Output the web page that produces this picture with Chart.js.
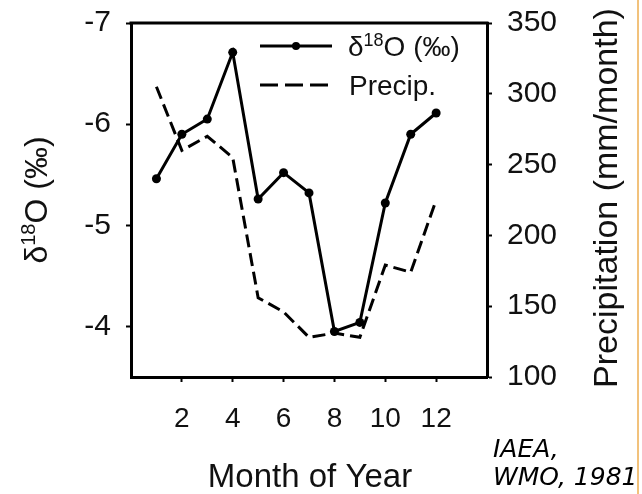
<!DOCTYPE html>
<html>
<head>
<meta charset="utf-8">
<title>d18O and precipitation by month</title>
<script src="https://cdn.jsdelivr.net/npm/chart.js@4.4.1/dist/chart.umd.min.js"></script>
<style>
    html, body { margin: 0; padding: 0; background: #fff; }
    #wrap { width: 642px; height: 494px; }
</style>
</head>
<body>
<div id="wrap"><canvas id="isoChart" width="642" height="494"></canvas></div>
<script>
// values
const months = [1, 2, 3, 4, 5, 6, 7, 8, 9, 10, 11, 12];
const delta18O = [-5.46, -5.90, -6.05, -6.71, -5.26, -5.52, -5.32, -3.95, -4.04, -5.22, -5.90, -6.11];
const precip = [305, 260, 270, 255, 156, 146, 128, 131, 128, 179, 174, 225];

const monthTicks = [2, 4, 6, 8, 10, 12];
const deltaTicks = [-7, -6, -5, -4];
const precipTicks = [100, 150, 200, 250, 300, 350];

const FONT = '"Liberation Sans", Arial, sans-serif';
const INK = '#111';

// δ18O (‰) with a raised 18
function drawDeltaLabel(ctx, x, y, size) {
    const small = Math.round(size * 0.64);
    ctx.font = `${size}px ${FONT}`;
    const w1 = ctx.measureText('δ').width;
    const w3 = ctx.measureText('O (‰)').width;
    ctx.font = `${small}px ${FONT}`;
    const w2 = ctx.measureText('18').width;
    ctx.font = `${size}px ${FONT}`;
    ctx.fillText('δ', x, y);
    ctx.font = `${small}px ${FONT}`;
    ctx.fillText('18', x + w1, y - size * 0.36);
    ctx.font = `${size}px ${FONT}`;
    ctx.fillText('O (‰)', x + w1 + w2, y);
    return w1 + w2 + w3;
}

function deltaLabelWidth(ctx, size) {
    const small = Math.round(size * 0.64);
    ctx.font = `${size}px ${FONT}`;
    let w = ctx.measureText('δ').width + ctx.measureText('O (‰)').width;
    ctx.font = `${small}px ${FONT}`;
    w += ctx.measureText('18').width;
    return w;
}

// pin the side axes so the plot box lands where it is in the figure
function fitSide(width) {
    return (scale) => {
        scale.width = width;
        scale.paddingTop = 0;
        scale.paddingBottom = 0;
    };
}

const decorPlugin = {
    id: 'decor',
    afterDraw(chart) {
        const ctx = chart.ctx;
        const area = chart.chartArea;
        ctx.save();

        // top edge of the frame
        ctx.strokeStyle = '#000';
        ctx.lineWidth = 3;
        ctx.beginPath();
        ctx.moveTo(area.left - 1.5, area.top);
        ctx.lineTo(area.right + 1.5, area.top);
        ctx.stroke();

        // legend
        ctx.lineWidth = 3;
        ctx.beginPath();
        ctx.moveTo(260, 46);
        ctx.lineTo(332, 46);
        ctx.stroke();
        ctx.beginPath();
        ctx.arc(296, 46, 4, 0, Math.PI * 2);
        ctx.fillStyle = '#000';
        ctx.fill();
        ctx.setLineDash([18, 7]);
        ctx.beginPath();
        ctx.moveTo(260, 85);
        ctx.lineTo(332, 85);
        ctx.stroke();
        ctx.setLineDash([]);

        ctx.fillStyle = INK;
        ctx.textBaseline = 'alphabetic';
        ctx.textAlign = 'left';
        drawDeltaLabel(ctx, 348, 56, 28);
        ctx.font = `28px ${FONT}`;
        ctx.fillText('Precip.', 349, 95);

        // left axis title
        ctx.save();
        ctx.translate(47, 200);
        ctx.rotate(-Math.PI / 2);
        const lw = deltaLabelWidth(ctx, 32);
        drawDeltaLabel(ctx, -lw / 2, 0, 32);
        ctx.restore();

        // right axis title
        ctx.save();
        ctx.translate(617, 198);
        ctx.rotate(-Math.PI / 2);
        ctx.textAlign = 'center';
        ctx.font = `34px ${FONT}`;
        ctx.fillText('Precipitation (mm/month)', 0, 0);
        ctx.restore();

        // x axis title
        ctx.textAlign = 'center';
        ctx.font = `33px ${FONT}`;
        ctx.fillText('Month of Year', 310, 487);

        // source note
        ctx.textAlign = 'left';
        ctx.fillStyle = '#000';
        ctx.font = `italic 25px "DejaVu Sans", sans-serif`;
        ctx.fillText('IAEA,', 493, 457);
        ctx.fillText('WMO, 1981', 493, 485);

        // thin frame line at the right edge of the picture
        ctx.strokeStyle = '#f2c27c';
        ctx.lineWidth = 2;
        ctx.beginPath();
        ctx.moveTo(638, 0);
        ctx.lineTo(638, 494);
        ctx.stroke();

        ctx.restore();
    },
};

const ctx = document.getElementById('isoChart').getContext('2d');

new Chart(ctx, {
    type: 'line',
    data: {
        labels: months,
        datasets: [
            {
                label: 'δ18O (‰)',
                data: months.map((m, i) => ({ x: m, y: delta18O[i] })),
                yAxisID: 'y',
                borderColor: '#000',
                backgroundColor: '#000',
                borderWidth: 3,
                pointRadius: 4.5,
                pointBackgroundColor: '#000',
                pointBorderWidth: 0,
                tension: 0,
            },
            {
                label: 'Precip.',
                data: months.map((m, i) => ({ x: m, y: precip[i] })),
                yAxisID: 'y1',
                borderColor: '#000',
                borderWidth: 3,
                borderDash: [13, 6],
                pointRadius: 0,
                tension: 0,
            },
        ],
    },
    options: {
        responsive: false,
        animation: false,
        devicePixelRatio: 1,
        layout: { padding: { top: 23, left: 0, right: 0, bottom: 0 } },
        plugins: {
            legend: { display: false },
            tooltip: { enabled: false },
        },
        scales: {
            x: {
                type: 'linear',
                min: 0,
                max: 14,
                afterBuildTicks: (scale) => {
                    scale.ticks = monthTicks.map((v) => ({ value: v }));
                },
                afterFit: (scale) => {
                    scale.height = 117;
                    scale.paddingLeft = 0;
                    scale.paddingRight = 0;
                },
                ticks: {
                    color: INK,
                    font: { family: FONT, size: 28 },
                    padding: 20,
                    maxRotation: 0,
                    callback: (v) => v,
                },
                grid: { drawOnChartArea: false, tickLength: 5, tickWidth: 2, tickColor: '#000' },
                border: { display: true, color: '#000', width: 3 },
            },
            y: {
                position: 'left',
                reverse: true,
                min: -7,
                max: -3.5,
                afterBuildTicks: (scale) => {
                    scale.ticks = deltaTicks.map((v) => ({ value: v }));
                },
                afterFit: fitSide(131),
                ticks: {
                    color: INK,
                    font: { family: FONT, size: 30 },
                    padding: 15,
                    callback: (v) => v,
                },
                grid: { drawOnChartArea: false, tickLength: 5, tickWidth: 2, tickColor: '#000' },
                border: { display: true, color: '#000', width: 3 },
            },
            y1: {
                position: 'right',
                min: 100,
                max: 350,
                afterBuildTicks: (scale) => {
                    scale.ticks = precipTicks.map((v) => ({ value: v }));
                },
                afterFit: fitSide(155),
                ticks: {
                    color: INK,
                    font: { family: FONT, size: 30 },
                    padding: 15,
                    callback: (v) => v,
                },
                grid: { drawOnChartArea: false, tickLength: 5, tickWidth: 2, tickColor: '#000' },
                border: { display: true, color: '#000', width: 3 },
            },
        },
    },
    plugins: [decorPlugin],
});
</script>
</body>
</html>
